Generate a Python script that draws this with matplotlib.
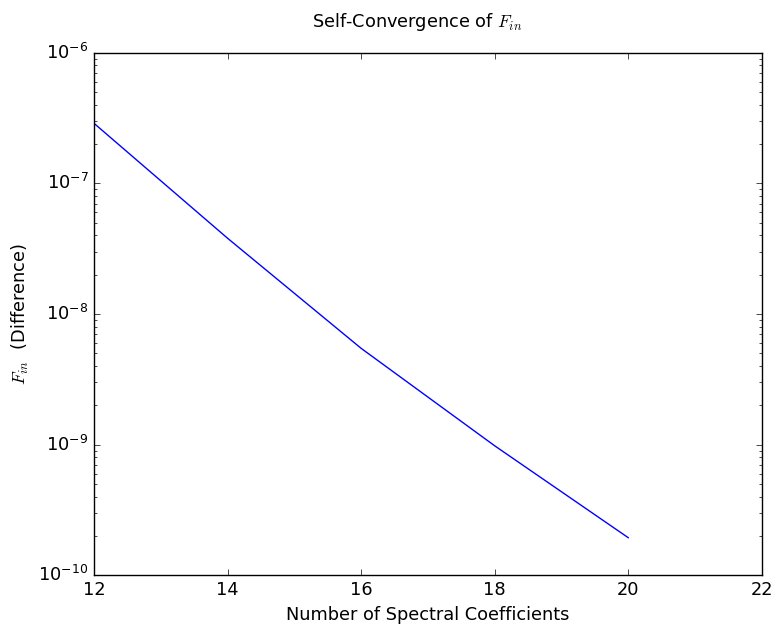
import matplotlib
matplotlib.use('Agg')
import matplotlib.pyplot as plt
from matplotlib.ticker import NullFormatter

# spectral coefficient counts and the self-convergence difference
n_coeffs = [12, 14, 16, 18, 20]
f_in_diff = [2.88e-7, 3.8e-8, 5.46e-9, 9.8e-10, 1.94e-10]


def main():
    plt.style.use('classic')
    plt.rcParams['mathtext.fontset'] = 'cm'
    fs = 12.75

    fig = plt.figure(figsize=(7.75, 6.28), dpi=100, facecolor='white')
    ax = fig.add_axes([0.1213, 0.0839, 0.8617, 0.8322])

    ax.semilogy(n_coeffs, f_in_diff, color='b', linestyle='-', linewidth=1.0)

    ax.set_xlim(12, 22)
    ax.set_ylim(1e-10, 1e-6)
    ax.set_xticks([12, 14, 16, 18, 20, 22])
    ax.yaxis.set_minor_formatter(NullFormatter())
    ax.tick_params(labelsize=fs)

    ax.set_xlabel('Number of Spectral Coefficients', fontsize=fs)
    ax.set_ylabel(r'$F_{in}$  (Difference)', fontsize=fs)
    fig.text(0.538, 0.965, r'Self-Convergence of $F_{in}$', ha='center', va='center', fontsize=fs)

    fig.savefig('out.png', dpi=100, facecolor='white')


if __name__ == '__main__':
    main()
